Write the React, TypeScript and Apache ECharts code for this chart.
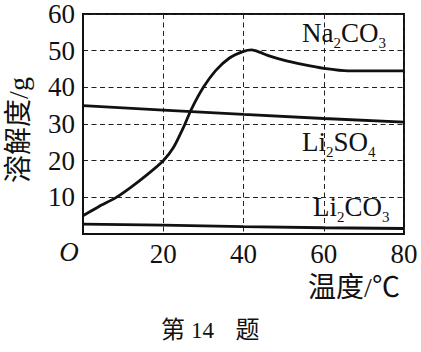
import React, { useEffect, useRef } from "react";
import * as echarts from "echarts";

const xTicks = [0, 20, 40, 60, 80];
const yTicks = [0, 10, 20, 30, 40, 50, 60];

const na2co3: [number, number][] = [
  [0, 5], [4, 7.5], [8.3, 10], [12, 12.8], [16, 16.2], [20, 20], [22.5, 23.5],
  [25, 29], [27, 34], [30, 40], [33, 44.5], [36.5, 48], [40, 49.8], [42, 50.2],
  [44, 49.6], [46, 48.7], [50, 47.4], [55, 46.2], [60, 45.2], [66, 44.5], [80, 44.5],
];
const li2so4: [number, number][] = [[0, 35], [20, 33.8], [40, 32.6], [60, 31.5], [80, 30.5]];
const li2co3: [number, number][] = [[0, 2.7], [20, 2.4], [40, 2.0], [60, 1.7], [80, 1.5]];

const labelNa = "{n|Na}{s|2}{n|CO}{s|3}";
const labelSO = "{n|Li}{s|2}{n|SO}{s|4}";
const labelCO = "{n|Li}{s|2}{n|CO}{s|3}";
const xName = "温度/℃";
const yName = "溶解度/g";
const captionParts = ["第", "14", "题"];
const originLabel = "O";

const FONT = "'Liberation Serif', 'Noto Sans CJK SC', serif";
const INK = "#111";

const rich = {
  n: { fontSize: 27, lineHeight: 36, fontFamily: FONT, fill: INK, color: INK },
  s: { fontSize: 15, lineHeight: 15, fontFamily: FONT, fill: INK, color: INK, verticalAlign: "bottom" },
};

function formula(text: string, x: number, y: number) {
  return {
    type: "text",
    x,
    y,
    z: 10,
    style: { text, rich, align: "left", textAlign: "left", verticalAlign: "top", textVerticalAlign: "top", fill: INK },
  };
}

function centeredText(text: string, x: number, y: number, size: number, extra: any = {}) {
  return {
    type: "text",
    x,
    y,
    ...extra,
    style: { text, font: `${size}px ${FONT}`, fill: INK, align: "center", textAlign: "center", verticalAlign: "middle", textVerticalAlign: "middle" },
  };
}

export default function App() {
  const ref = useRef<HTMLDivElement>(null);
  useEffect(() => {
    document.body.style.margin = "0";
    const chart = echarts.init(ref.current!, null, { renderer: "svg" });
    const lineSeries = (data: [number, number][], smooth: number | boolean) => ({
      type: "line",
      data,
      smooth,
      showSymbol: false,
      symbol: "none",
      lineStyle: { color: INK, width: 2.8 },
      z: 5,
    });
    const captionX = [173, 202.5, 247.5];
    chart.setOption({
      animation: false,
      backgroundColor: "#fff",
      grid: { left: 83, right: 17, top: 14, bottom: 118, show: true, borderColor: INK, borderWidth: 2, containLabel: false },
      xAxis: {
        type: "value",
        min: xTicks[0],
        max: xTicks[xTicks.length - 1],
        interval: 20,
        axisLine: { show: true, lineStyle: { color: INK, width: 2 } },
        axisTick: { show: false },
        axisLabel: {
          margin: 6,
          fontSize: 27,
          fontFamily: FONT,
          color: INK,
          formatter: (v: number) => (v === 0 ? "" : String(v)),
        },
        splitLine: { show: true, lineStyle: { color: "#222", width: 1, type: [5, 3.5] } },
      },
      yAxis: {
        type: "value",
        min: yTicks[0],
        max: yTicks[yTicks.length - 1],
        interval: 10,
        axisLine: { show: true, lineStyle: { color: INK, width: 2 } },
        axisTick: { show: false },
        axisLabel: {
          margin: 8,
          fontSize: 27,
          fontFamily: FONT,
          color: INK,
          formatter: (v: number) => (v === 0 ? "" : String(v)),
        },
        splitLine: { show: true, lineStyle: { color: "#222", width: 1, type: [5, 3.5] } },
      },
      series: [lineSeries(na2co3, 0.25), lineSeries(li2so4, false), lineSeries(li2co3, false)],
      graphic: [
        formula(labelNa, 302, 15),
        formula(labelSO, 302, 124),
        formula(labelCO, 313, 189),
        {
          type: "text",
          x: 69,
          y: 252,
          style: { text: originLabel, font: `italic 27px ${FONT}`, fill: INK, align: "center", textAlign: "center", verticalAlign: "middle", textVerticalAlign: "middle" },
        },
        centeredText(xName, 354, 287, 28),
        centeredText(yName, 18, 130, 28, { rotation: Math.PI / 2 }),
        ...captionParts.map((t, i) => centeredText(t, captionX[i], 330, i === 1 ? 23 : 24)),
      ],
    });
    return () => chart.dispose();
  }, []);
  return <div ref={ref} style={{ position: "absolute", left: 0, top: 0, width: 421, height: 352 }} />;
}
